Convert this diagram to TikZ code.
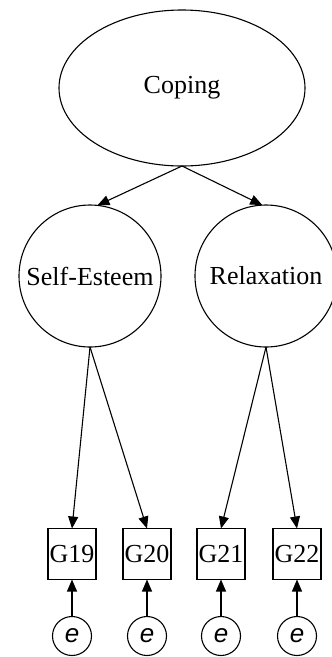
\documentclass[tikz,border=0pt]{standalone}
\usepackage{fontspec}
\setmainfont{Liberation Serif}
\newfontfamily\errfont{Liberation Sans}
\usetikzlibrary{arrows.meta,shapes.geometric}

\begin{document}
\begin{tikzpicture}[x=1pt,y=-1pt,line width=1.1pt,
	every node/.style={inner sep=0,outer sep=0,font=\fontsize{26}{30}\selectfont},
	latent/.style={draw,circle,minimum size=142pt},
	observed/.style={draw,rectangle,minimum width=48pt,minimum height=51pt},
	error/.style={draw,circle,minimum size=39pt,font=\errfont\itshape\fontsize{26}{30}\selectfont},
	path/.style={-{Triangle[length=12pt,width=10pt]}}]
	\clip (0,0) rectangle (332,657);
	\node[draw,ellipse,minimum width=246pt,minimum height=156pt] (cop) at (182,88) {Coping};
	\node[latent] (se) at (90,276) {Self-Esteem};
	\node[latent] (rel) at (266,276) {Relaxation};
	\node[observed] (g19) at (72,554) {G19};
	\node[observed] (g20) at (147,554) {G20};
	\node[observed] (g21) at (221,554) {G21};
	\node[observed] (g22) at (297,554) {G22};
	\node[error] (e19) at (72,636) {e};
	\node[error] (e20) at (147,636) {e};
	\node[error] (e21) at (221,636) {e};
	\node[error] (e22) at (297,636) {e};
	\draw[path] (cop.south) -- (se.84);
	\draw[path] (cop.south) -- (rel.93);
	\draw[path] (se.south) -- (g19.north);
	\draw[path] (se.south) -- (g20.north);
	\draw[path] (rel.south) -- (g21.north);
	\draw[path] (rel.south) -- (g22.north);
	\draw[path] (e19) -- (g19);
	\draw[path] (e20) -- (g20);
	\draw[path] (e21) -- (g21);
	\draw[path] (e22) -- (g22);
\end{tikzpicture}
\end{document}
